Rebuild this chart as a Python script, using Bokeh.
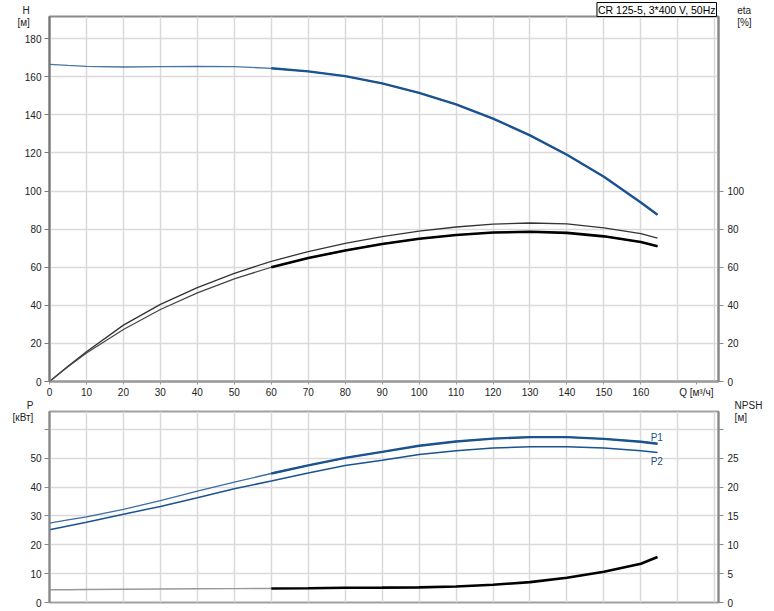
from bokeh.plotting import figure
from bokeh.models import Range1d, LinearAxis, FixedTicker, Label
from bokeh.layouts import column
from bokeh.embed import file_html
from bokeh.resources import INLINE

# ---- data ----
q = [0, 5, 10, 20, 30, 40, 50, 60, 70, 80, 90, 100, 110, 120, 130, 140, 150, 160, 164.5]
head = [166.5, 165.9, 165.4, 165.1, 165.3, 165.4, 165.3, 164.4, 162.8, 160.3, 156.5,
        151.5, 145.5, 138.0, 129.2, 119.0, 107.5, 94.0, 87.5]
eta_upper = [0, 8.0, 15.6, 29.6, 40.5, 49.3, 56.8, 63.1, 68.2, 72.5, 76.0,
             78.9, 81.1, 82.6, 83.2, 82.7, 80.6, 77.6, 75.3]
eta_lower = [0, 7.7, 15.0, 27.3, 37.8, 46.5, 53.9, 60.0, 64.8, 68.8, 72.2,
             74.9, 76.9, 78.2, 78.6, 78.0, 76.2, 73.2, 71.0]
p1 = [27.5, 28.6, 29.7, 32.3, 35.3, 38.6, 41.7, 44.7, 47.5, 50.1, 52.2,
      54.3, 55.8, 56.8, 57.3, 57.3, 56.7, 55.7, 55.0]
p2 = [25.2, 26.5, 27.8, 30.6, 33.3, 36.3, 39.4, 42.1, 44.9, 47.5, 49.3,
      51.3, 52.6, 53.5, 54.0, 54.0, 53.5, 52.6, 52.0]
npsh = [2.2, 2.22, 2.25, 2.3, 2.35, 2.38, 2.4, 2.43, 2.48, 2.55, 2.58,
        2.62, 2.78, 3.07, 3.53, 4.28, 5.33, 6.71, 7.87]
OP = 7  # index where the operating (thick) range starts

q_ticks = list(range(0, 190, 10))
q_label_ticks = list(range(0, 170, 10)) + [175]
h_ticks = list(range(0, 200, 20))
eta_ticks = list(range(0, 120, 20))
p_ticks = list(range(0, 70, 10))
npsh_ticks = list(range(0, 35, 5))
title_text = "CR 125-5, 3*400 V, 50Hz"
q_label = "Q [м³/ч]"

FONT = "Liberation Sans"
BLUE = "#1b5390"
GRID = "#dadada"
TXT = "#222222"

x_range = Range1d(0, 181)


def style_axis(ax, color, tick_out, standoff, label=None, label_standoff=0):
    ax.axis_line_color = color
    ax.axis_line_width = 2
    ax.major_tick_line_color = color
    ax.major_tick_out = tick_out
    ax.major_tick_in = 0
    ax.minor_tick_line_color = None
    ax.major_label_standoff = standoff
    ax.major_label_text_font = FONT
    ax.major_label_text_font_size = "10px"
    ax.major_label_text_color = TXT
    if label is not None:
        ax.axis_label = label
        ax.axis_label_orientation = "horizontal"
        ax.axis_label_align = "end"
        ax.axis_label_standoff = label_standoff
        ax.axis_label_text_font = FONT
        ax.axis_label_text_font_size = "10px"
        ax.axis_label_text_font_style = "normal"
        ax.axis_label_text_color = TXT
        ax.axis_label_text_line_height = 1.15
        ax.axis_label_text_align = "center"


def lab(p, x, y, text, align="center", baseline="middle", color=TXT, size="10px", **kw):
    p.add_layout(Label(x=x, y=y, text=text, text_align=align, text_baseline=baseline,
                       text_font=FONT, text_font_size=size, text_color=color, **kw))


# ---------------- top panel ----------------
TOP_B = 16
top = figure(width=770, height=400, x_range=x_range,
             y_range=Range1d(0, (381 - TOP_B) / 1.905),
             title=title_text, output_backend="svg", toolbar_location=None,
             min_border_left=49, min_border_right=52, min_border_top=TOP_B,
             min_border_bottom=19)
top.title.align = "right"
top.title.text_font = FONT
top.title.text_font_size = "10.5px"
top.title.text_font_style = "normal"
top.title.text_color = "black"
top.title.border_line_color = "black"
top.title.border_line_width = 1
top.title.background_fill_color = "white"
top.title.padding = 1
top.title.standoff = 0
top.title.offset = 2
top.outline_line_color = "#8a8a8a"
top.outline_line_width = 2
top.background_fill_color = "white"
top.border_fill_color = "white"

top.xaxis.ticker = FixedTicker(ticks=q_label_ticks)
top.xaxis.major_label_overrides = {175: q_label}
style_axis(top.xaxis[0], "#999999", 3, 2)
top.yaxis.ticker = FixedTicker(ticks=h_ticks)
style_axis(top.yaxis[0], "#777777", 5, 3, "H\n[м]", -8)
eta_axis = LinearAxis(ticker=FixedTicker(ticks=eta_ticks))
style_axis(eta_axis, "#888888", 5, 4, "eta\n[%]", -10)
top.add_layout(eta_axis, "right")

top.xgrid.ticker = FixedTicker(ticks=q_ticks)
top.ygrid.ticker = FixedTicker(ticks=h_ticks)
for g in (top.xgrid[0], top.ygrid[0]):
    g.grid_line_color = GRID
    g.grid_line_width = 1.5

top.line(q, head, line_color=BLUE, line_width=1.3, line_alpha=0.8)
top.line(q[OP:], head[OP:], line_color=BLUE, line_width=2.4)
top.line(q, eta_upper, line_color="#333333", line_width=1.3)
top.line(q, eta_lower, line_color="#444444", line_width=1.2)
top.line(q[OP:], eta_lower[OP:], line_color="black", line_width=2.6)

# ---------------- bottom panel ----------------
BOT_B = 11
bot = figure(width=770, height=210, x_range=x_range,
             y_range=Range1d(0, (602 - 400 - BOT_B) / 2.886),
             output_backend="svg", toolbar_location=None,
             min_border_left=49, min_border_right=52, min_border_top=BOT_B,
             min_border_bottom=8)
bot.extra_y_ranges = {"npsh": Range1d(0, (602 - 400 - BOT_B) / 2.886 / 2)}
bot.outline_line_color = "#a0a0a0"
bot.outline_line_width = 2
bot.xaxis.visible = False
bot.yaxis.ticker = FixedTicker(ticks=p_ticks)
bot.yaxis.major_label_overrides = {60: ""}
style_axis(bot.yaxis[0], "#888888", 5, 3, "P\n[кВт]", -6)
npsh_axis = LinearAxis(y_range_name="npsh", ticker=FixedTicker(ticks=npsh_ticks),
                       major_label_overrides={30: ""})
style_axis(npsh_axis, "#888888", 5, 4, "NPSH\n[м]", -7)
bot.add_layout(npsh_axis, "right")

bot.xgrid.ticker = FixedTicker(ticks=q_ticks)
bot.ygrid.ticker = FixedTicker(ticks=p_ticks)
for g in (bot.xgrid[0], bot.ygrid[0]):
    g.grid_line_color = GRID
    g.grid_line_width = 1.5

bot.line(q, p1, line_color=BLUE, line_width=1.3, line_alpha=0.85)
bot.line(q[OP:], p1[OP:], line_color=BLUE, line_width=2.4)
bot.line(q, p2, line_color=BLUE, line_width=1.5)
bot.line(q[:OP + 1], npsh[:OP + 1], line_color="#999999", line_width=1.4, y_range_name="npsh")
bot.line(q[OP:], npsh[OP:], line_color="black", line_width=2.6, y_range_name="npsh")

lab(bot, 164.3, 57.1, "P1", color=BLUE)
lab(bot, 164.3, 49.0, "P2", color=BLUE)

layout = column(top, bot, spacing=0)
open("out.html", "w").write(file_html(layout, INLINE))
